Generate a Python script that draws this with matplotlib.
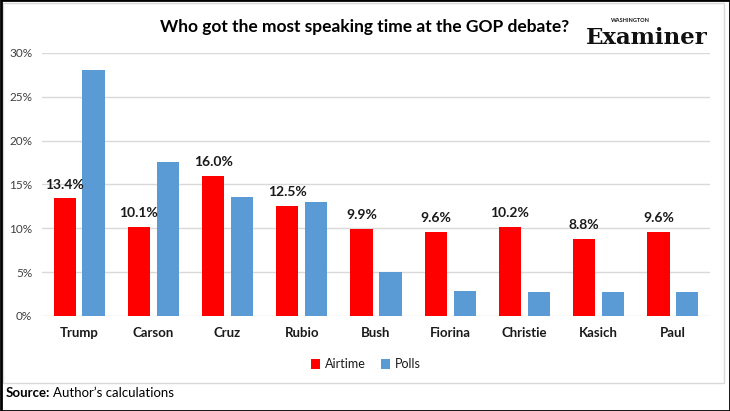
import matplotlib.pyplot as plt
from matplotlib.patches import Rectangle
import numpy as np

plt.rcParams['font.family'] = ['Lato', 'DejaVu Sans']

candidates = ['Trump', 'Carson', 'Cruz', 'Rubio', 'Bush', 'Fiorina', 'Christie', 'Kasich', 'Paul']
airtime = [13.4, 10.1, 16.0, 12.5, 9.9, 9.6, 10.2, 8.8, 9.6]
polls = [28.0, 17.6, 13.6, 13.0, 5.0, 2.85, 2.7, 2.7, 2.7]

red = '#FF0000'
blue = '#5B9BD5'

fig = plt.figure(figsize=(7.3, 4.11), dpi=100)
ax = fig.add_axes([42 / 730, 1 - 316 / 411, 668 / 730, (316 - 52.8) / 411])

x = np.arange(len(candidates))
w = 0.30
off = 0.195
ax.bar(x - off, airtime, w, color=red, label='Airtime', zorder=3)
ax.bar(x + off, polls, w, color=blue, label='Polls', zorder=3)

for xi, v in zip(x, airtime):
    ax.text(xi - off, v + 0.9, f'{v:.1f}%', ha='center', va='bottom',
            fontsize=10, fontweight='bold', color='#1a1a1a')

ax.set_xlim(-0.5, len(candidates) - 0.5)
ax.set_ylim(0, 30)
ax.set_yticks(range(0, 31, 5))
ax.set_yticklabels([f'{t}%' for t in range(0, 31, 5)], fontsize=8.5, color='#404040')
ax.set_xticks(x)
ax.set_xticklabels(candidates, fontsize=9.5, fontweight='bold', color='#1a1a1a')
ax.tick_params(axis='both', length=0)
ax.tick_params(axis='y', pad=7)
ax.tick_params(axis='x', pad=8)
ax.grid(axis='y', color='#d9d9d9', linewidth=1, zorder=0)
for s in ax.spines.values():
    s.set_visible(False)

fig.text(365 / 730, 1 - 27 / 411, 'Who got the most speaking time at the GOP debate?',
         ha='center', va='center', fontsize=12.5, fontweight='bold', color='black')

leg = fig.legend(loc='center', bbox_to_anchor=(366 / 730, 1 - 364 / 411), ncol=2,
                 frameon=False, fontsize=9, handlelength=0.7, handleheight=0.9,
                 handletextpad=0.4, columnspacing=1.2)
for t in leg.get_texts():
    t.set_color('#1a1a1a')

# logo text
fig.text(647 / 730, 1 - 38 / 411, 'Examiner', ha='center', va='center',
         fontsize=16.5, fontweight='bold', family='DejaVu Serif', color='#111111')
fig.text(630 / 730, 1 - 21 / 411, 'WASHINGTON', ha='center', va='center',
         fontsize=4, fontweight='bold', color='#111111')

# source line
fig.text(6 / 730, 1 - 393 / 411, 'Source:', ha='left', va='center',
         fontsize=9.5, fontweight='bold', color='black')
fig.text(53 / 730, 1 - 393 / 411, 'Author\u2019s calculations', ha='left', va='center',
         fontsize=9.5, color='black')

# inner chart frame and outer border
fig.add_artist(Rectangle((3 / 730, 1 - 383 / 411), 721 / 730, 380 / 411,
                         transform=fig.transFigure, fill=False,
                         edgecolor='#d9d9d9', linewidth=1))
fig.add_artist(Rectangle((0.5 / 730, 0.5 / 411), 729 / 730, 410 / 411,
                         transform=fig.transFigure, fill=False,
                         edgecolor='black', linewidth=2))

fig.savefig('out.png', dpi=100)
